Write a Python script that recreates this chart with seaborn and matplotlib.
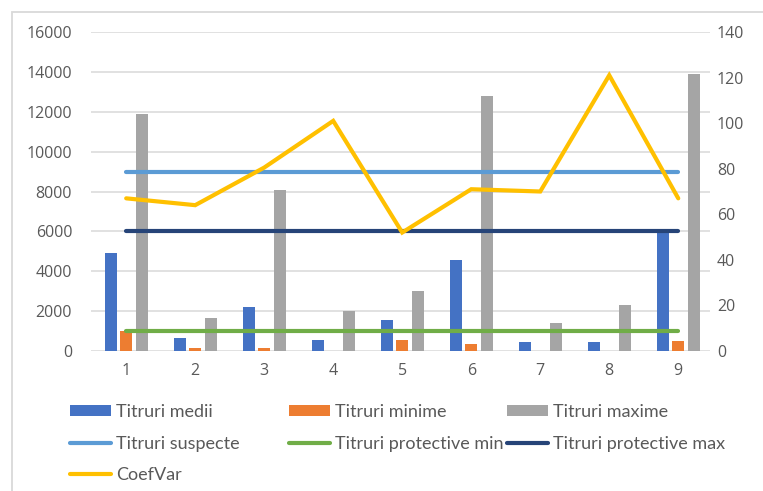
import numpy as np
import pandas as pd
import matplotlib
matplotlib.use("Agg")
import matplotlib.pyplot as plt
import seaborn as sns
from matplotlib.patches import Rectangle, Patch
from matplotlib.lines import Line2D

# ---- data ----
categories = ["1", "2", "3", "4", "5", "6", "7", "8", "9"]
titruri_medii = [4900, 650, 2200, 540, 1540, 4560, 440, 440, 6050]
titruri_minime = [1000, 130, 170, 0, 540, 350, 0, 0, 490]
titruri_maxime = [11900, 1680, 8100, 2000, 3020, 12800, 1400, 2300, 13900]
titruri_suspecte = [9000, 9000, 9000, 9000, 9000, 9000, 9000, 9000, 9000]
protective_min = [1000, 1000, 1000, 1000, 1000, 1000, 1000, 1000, 1000]
protective_max = [6000, 6000, 6000, 6000, 6000, 6000, 6000, 6000, 6000]
coef_var = [67, 64, 80.5, 101, 52, 71, 70, 121, 67]
left_ticks = [0, 2000, 4000, 6000, 8000, 10000, 12000, 14000, 16000]
right_ticks = [0, 20, 40, 60, 80, 100, 120, 140]

bar_names = ["Titruri medii", "Titruri minime", "Titruri maxime"]
bar_colors = ["#4472C4", "#ED7D31", "#A5A5A5"]
line_names = ["Titruri suspecte", "Titruri protective min", "Titruri protective max"]
line_colors = ["#5B9BD5", "#70AD47", "#264478"]
coef_name = "CoefVar"
coef_color = "#FFC000"

sns.set_theme(style="white")
TEXT = "#595959"
GRID = "#D9D9D9"
tick_font = ["Open Sans", "DejaVu Sans"]
legend_font = ["Lato", "DejaVu Sans"]

W, H = 763, 491
fig = plt.figure(figsize=(W / 100, H / 100), dpi=100)
fig.patch.set_facecolor("white")

# chart frame
fig.patches.append(Rectangle((12 / W, -0.2), 2.0, 1.2 - 12 / H,
                             transform=fig.transFigure, fill=False,
                             ec=GRID, lw=1.3, zorder=0))

ax_l, ax_r, ax_t, ax_b = 91, 710, 32, 351
ax = fig.add_axes([ax_l / W, 1 - ax_b / H, (ax_r - ax_l) / W, (ax_b - ax_t) / H])

df = pd.DataFrame({
    "cat": categories * 3,
    "val": titruri_medii + titruri_minime + titruri_maxime,
    "serie": sum([[n] * len(categories) for n in bar_names], []),
})
sns.barplot(data=df, x="cat", y="val", hue="serie", hue_order=bar_names,
            palette=bar_colors, width=0.675, ax=ax, legend=False,
            saturation=1, linewidth=0, zorder=2)

# narrow each bar around its own center
bw = 0.174
for p in ax.patches:
    c = p.get_x() + p.get_width() / 2
    p.set_width(bw)
    p.set_x(c - bw / 2)

pos = np.arange(len(categories))
for vals, col in zip([titruri_suspecte, protective_min, protective_max], line_colors):
    sns.lineplot(x=pos, y=vals, ax=ax, color=col, lw=3.0,
                 solid_capstyle="round", zorder=3, legend=False)

ax.set_ylim(0, 16000)
ax.set_xlim(-0.51, 8.46)
ax.set_yticks(left_ticks)
ax.set_yticklabels([str(t) for t in left_ticks])
ax.yaxis.grid(True, color=GRID, lw=1.1)
ax.set_axisbelow(True)
for s in ax.spines.values():
    s.set_visible(False)
ax.set_xlabel("")
ax.set_ylabel("")
ax.tick_params(axis="y", length=0, pad=13.5, labelsize=11.5, labelcolor=TEXT)
ax.tick_params(axis="x", length=0, pad=8.5, labelsize=11.5, labelcolor=TEXT)
for lab in ax.get_yticklabels() + ax.get_xticklabels():
    lab.set_family(tick_font)

ax2 = ax.twinx()
sns.lineplot(x=pos, y=coef_var, ax=ax2, color=coef_color, lw=3.0,
             solid_capstyle="round", solid_joinstyle="miter", zorder=4, legend=False)
ax2.set_ylim(0, 140)
ax2.set_yticks(right_ticks)
ax2.set_yticklabels([str(t) for t in right_ticks])
ax2.set_ylabel("")
for s in ax2.spines.values():
    s.set_visible(False)
ax2.tick_params(axis="y", length=0, pad=5, labelsize=11.5, labelcolor=TEXT)
for lab in ax2.get_yticklabels():
    lab.set_family(tick_font)

# legend: three fixed columns
def bar_handle(c):
    return Patch(facecolor=c, edgecolor="none")

def line_handle(c):
    return Line2D([0], [0], color=c, lw=3.0, solid_capstyle="round")

columns = [
    ([bar_handle(bar_colors[0]), line_handle(line_colors[0]), line_handle(coef_color)],
     [bar_names[0], line_names[0], coef_name], 70),
    ([bar_handle(bar_colors[1]), line_handle(line_colors[1])],
     [bar_names[1], line_names[1]], 289),
    ([bar_handle(bar_colors[2]), line_handle(line_colors[2])],
     [bar_names[2], line_names[2]], 507),
]
for handles, labels, x0 in columns:
    leg = fig.legend(handles, labels, loc="upper left",
                     bbox_to_anchor=(x0 / W, 1 - 404 / H), frameon=False,
                     prop={"family": legend_font, "size": 13},
                     handlelength=2.27, handleheight=0.5, handletextpad=0.28,
                     labelspacing=0.86, borderpad=0, borderaxespad=0)
    for t in leg.get_texts():
        t.set_color(TEXT)

fig.savefig("out.png", dpi=100, facecolor="white")
